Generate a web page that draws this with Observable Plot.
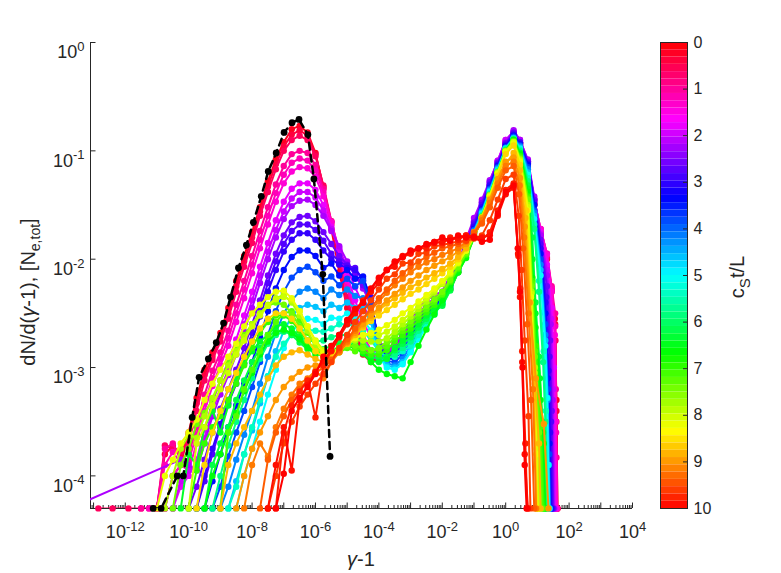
<!DOCTYPE html>
<html><head><meta charset="utf-8">
<script src="https://cdn.jsdelivr.net/npm/d3@7"></script>
<script src="https://cdn.jsdelivr.net/npm/@observablehq/plot@0.6"></script>
<style>
body{margin:0;background:#fff;}
#wrap{position:relative;width:781px;height:573px;background:#fff;}
#wrap svg{position:absolute;top:0;}
</style></head><body><div id="wrap"></div>
<script>
// ---------------- data (x as log10(γ-1) bins, y as log10 of dN/d(γ-1)) ----------------
const binStep = 0.25; // decades per energy bin

// initial distribution (black dashed): [log10(γ-1), log10(dN/d(γ-1))]
const initialCurve = [[-11.12,-4.3],[-10.87,-4.3],[-10.36,-4.0],[-10.17,-4.0],[-9.89,-3.46],[-9.67,-3.09],[-9.38,-2.92],[-9.13,-2.77],[-8.9,-2.59],[-8.68,-2.35],[-8.43,-2.08],[-8.18,-1.87],[-7.96,-1.66],[-7.71,-1.42],[-7.49,-1.19],[-7.24,-1.02],[-6.99,-0.83],[-6.74,-0.74],[-6.52,-0.71],[-6.24,-0.85],[-6.05,-1.26],[-5.77,-2.14],[-5.54,-3.82]];

const times = [0.2,0.4,0.6,1.0,1.2,1.4,1.8,2.0,2.2,2.6,2.8,3.0,3.4,3.8,4.2,4.6,5.0,5.4,5.8,6.2,6.4,6.6,7.0,7.2,7.4,7.8,8.0,8.2,8.6,8.8,9.0,9.2,9.4,9.6,9.8,9.9,10.0];
const startLogX = [-11,-11,-11,-11.5,-11.25,-11,-10.75,-10.5,-10.25,-10,-9.75,-9.75,-9.5,-9.25,-9,-8.75,-8.5,-8.75,-9.25,-9.75,-10.25,-9.5,-10,-9,-10.5,-10.75,-10,-11,-9.75,-9,-8.5,-8.25,-7.75,-7.5,-7.5,-7.5,-7.25];

const logY_t0_2 = [-4.3,-4.3,-4.0,-3.9,  -3.6,-3.28,-3.02,-2.86,  -2.68,-2.45,-2.2,-1.97,  -1.75,-1.52,-1.28,-1.08,  -0.92,-0.8,-0.77,-0.83,  -1.02,-1.35,-1.72,-2.12,  -2.45,-2.72,-2.88,-2.95,  -2.92,-2.88,-2.82,-2.74,  -2.68,-2.6,-2.52,-2.45,  -2.38,-2.28,-2.12,-1.95,  -1.76,-1.56,-1.36,-1.15,  -0.96,-0.88];
const logY_t0_4 = [-4.3,-3.8,-3.72,-3.8,  -3.62,-3.33,-3.07,-2.9,  -2.72,-2.5,-2.25,-2.02,  -1.8,-1.56,-1.33,-1.12,  -0.96,-0.85,-0.81,-0.86,  -1.03,-1.33,-1.68,-2.05,  -2.4,-2.67,-2.85,-2.94,  -2.91,-2.86,-2.8,-2.72,  -2.66,-2.58,-2.5,-2.43,  -2.37,-2.27,-2.11,-1.94,  -1.75,-1.55,-1.35,-1.14,  -0.95,-0.87];
const logY_t0_6 = [-4.3,-3.72,-3.75,-3.78,  -3.7,-3.4,-3.12,-2.93,  -2.76,-2.55,-2.3,-2.07,  -1.85,-1.6,-1.38,-1.17,  -1.0,-0.9,-0.86,-0.9,  -1.05,-1.32,-1.65,-2.0,  -2.35,-2.62,-2.82,-2.93,  -2.9,-2.84,-2.77,-2.7,  -2.64,-2.56,-2.48,-2.42,  -2.36,-2.26,-2.1,-1.93,  -1.74,-1.54,-1.34,-1.13,  -0.94,-0.86];
const logY_t1_0 = [-4.3,-4.3,  -4.3,-3.75,-3.7,-3.85,  -3.8,-3.55,-3.25,-3.03,  -2.86,-2.66,-2.42,-2.2,  -1.97,-1.74,-1.52,-1.31,  -1.14,-1.03,-1.0,-1.02,  -1.13,-1.35,-1.65,-1.95,  -2.27,-2.55,-2.78,-2.9,  -2.93,-2.86,-2.78,-2.7,  -2.63,-2.55,-2.47,-2.41,  -2.35,-2.24,-2.09,-1.92,  -1.73,-1.53,-1.33,-1.12,  -0.93,-0.85];
const logY_t1_2 = [-4.3,  -4.3,-3.9,-3.78,-3.88,  -3.86,-3.62,-3.33,-3.1,  -2.92,-2.73,-2.5,-2.28,  -2.05,-1.82,-1.6,-1.39,  -1.22,-1.11,-1.07,-1.09,  -1.18,-1.38,-1.66,-1.94,  -2.24,-2.51,-2.74,-2.88,  -2.91,-2.85,-2.77,-2.69,  -2.62,-2.54,-2.46,-2.4,  -2.34,-2.23,-2.08,-1.91,  -1.72,-1.52,-1.32,-1.11,  -0.92,-0.84];
const logY_t1_4 = [-4.3,-4.3,-4.0,-3.9,  -3.95,-3.7,-3.4,-3.17,  -2.98,-2.8,-2.58,-2.36,  -2.13,-1.9,-1.68,-1.47,  -1.3,-1.19,-1.15,-1.16,  -1.24,-1.42,-1.66,-1.92,  -2.2,-2.47,-2.7,-2.84,  -2.86,-2.86,-2.82,-2.74,  -2.66,-2.57,-2.48,-2.4,  -2.33,-2.22,-2.08,-1.9,  -1.7,-1.5,-1.31,-1.1,  -0.91,-0.84];
const logY_t1_8 = [-4.3,-4.3,-4.1,  -4.0,-3.85,-3.57,-3.32,  -3.12,-2.94,-2.74,-2.52,  -2.3,-2.07,-1.85,-1.64,  -1.47,-1.35,-1.3,-1.3,  -1.36,-1.5,-1.7,-1.92,  -2.15,-2.38,-2.58,-2.72,  -2.84,-2.86,-2.83,-2.76,  -2.62,-2.53,-2.45,-2.38,  -2.32,-2.2,-2.07,-1.88,  -1.67,-1.48,-1.29,-1.09,  -0.9,-0.83];
const logY_t2_0 = [-4.3,-4.05,  -3.95,-3.92,-3.65,-3.4,  -3.2,-3.02,-2.82,-2.6,  -2.38,-2.15,-1.93,-1.73,  -1.56,-1.44,-1.38,-1.38,  -1.43,-1.55,-1.72,-1.9,  -2.08,-2.26,-2.42,-2.57,  -2.8,-2.85,-2.83,-2.74,  -2.6,-2.5,-2.42,-2.36,  -2.31,-2.18,-2.06,-1.85,  -1.65,-1.47,-1.28,-1.09,  -0.9,-0.82];
const logY_t2_2 = [-3.85,  -3.9,-3.95,-3.7,-3.45,  -3.25,-3.07,-2.88,-2.67,  -2.45,-2.22,-2.0,-1.8,  -1.63,-1.51,-1.46,-1.45,  -1.5,-1.6,-1.74,-1.88,  -2.02,-2.15,-2.27,-2.42,  -2.76,-2.82,-2.8,-2.7,  -2.56,-2.45,-2.38,-2.33,  -2.3,-2.15,-2.04,-1.82,  -1.62,-1.45,-1.27,-1.1,  -0.92,-0.81];
const logY_t2_6 = [-4.3,-4.1,-3.85,-3.6,  -3.38,-3.2,-3.02,-2.82,  -2.6,-2.38,-2.15,-1.95,  -1.78,-1.66,-1.61,-1.6,  -1.65,-1.75,-1.86,-1.97,  -2.05,-2.14,-2.24,-2.4,  -2.78,-2.86,-2.85,-2.76,  -2.62,-2.52,-2.43,-2.37,  -2.32,-2.18,-2.05,-1.86,  -1.66,-1.48,-1.29,-1.11,  -0.93,-0.83];
const logY_t2_8 = [-4.3,-4.05,-3.8,  -3.55,-3.3,-3.1,-2.9,  -2.68,-2.45,-2.22,-2.02,  -1.86,-1.74,-1.68,-1.68,  -1.73,-1.83,-1.95,-2.02,  -2.06,-2.08,-2.2,-2.36,  -2.8,-2.9,-2.88,-2.78,  -2.66,-2.55,-2.46,-2.39,  -2.33,-2.19,-2.06,-1.88,  -1.68,-1.5,-1.31,-1.12,  -0.94,-0.84];
const logY_t3_0 = [-4.3,-4.0,-3.75,  -3.52,-3.33,-3.15,-2.96,  -2.75,-2.53,-2.3,-2.1,  -1.93,-1.82,-1.76,-1.76,  -1.82,-1.92,-2.0,-2.05,  -2.08,-2.1,-2.18,-2.35,  -2.82,-2.9,-2.9,-2.8,  -2.68,-2.57,-2.48,-2.41,  -2.34,-2.2,-2.06,-1.89,  -1.7,-1.52,-1.32,-1.13,  -0.95,-0.85];
const logY_t3_4 = [-4.3,-4.05,  -3.8,-3.55,-3.35,-3.15,  -2.95,-2.72,-2.48,-2.27,  -2.1,-1.98,-1.92,-1.92,  -1.97,-2.08,-2.04,-2.15,  -2.1,-2.18,-2.16,-2.38,  -2.8,-2.92,-2.92,-2.84,  -2.72,-2.61,-2.51,-2.43,  -2.36,-2.22,-2.07,-1.9,  -1.72,-1.54,-1.34,-1.14,  -0.96,-0.86];
const logY_t3_8 = [-4.3,  -4.1,-3.82,-3.6,-3.4,  -3.18,-2.95,-2.7,-2.48,  -2.3,-2.17,-2.1,-2.07,  -2.12,-2.2,-2.16,-2.24,  -2.18,-2.25,-2.2,-2.42,  -2.82,-2.94,-2.95,-2.88,  -2.76,-2.65,-2.55,-2.46,  -2.37,-2.23,-2.08,-1.91,  -1.73,-1.55,-1.35,-1.15,  -0.97,-0.87];
const logY_t4_2 = [-4.3,-4.1,-3.85,-3.62,  -3.4,-3.15,-2.9,-2.68,  -2.5,-2.38,-2.3,-2.27,  -2.3,-2.36,-2.28,-2.33,  -2.28,-2.34,-2.36,-2.5,  -2.85,-2.96,-2.98,-2.92,  -2.8,-2.68,-2.57,-2.47,  -2.38,-2.24,-2.08,-1.92,  -1.74,-1.56,-1.36,-1.16,  -0.97,-0.88];
const logY_t4_6 = [-4.3,-4.05,-3.8,  -3.58,-3.33,-3.08,-2.85,  -2.66,-2.53,-2.45,-2.42,  -2.44,-2.48,-2.42,-2.45,  -2.4,-2.45,-2.46,-2.58,  -2.88,-2.98,-3.0,-2.95,  -2.84,-2.72,-2.6,-2.49,  -2.39,-2.25,-2.09,-1.93,  -1.75,-1.57,-1.37,-1.17,  -0.98,-0.88];
const logY_t5_0 = [-4.3,-4.0,  -3.75,-3.5,-3.25,-3.02,  -2.82,-2.68,-2.58,-2.55,  -2.56,-2.6,-2.54,-2.55,  -2.5,-2.55,-2.56,-2.66,  -2.9,-3.0,-3.02,-2.97,  -2.86,-2.74,-2.62,-2.51,  -2.4,-2.26,-2.1,-1.94,  -1.76,-1.58,-1.38,-1.18,  -0.98,-0.89];
const logY_t5_4 = [-4.3,-4.1,-3.8,  -3.55,-3.3,-3.08,-2.9,  -2.78,-2.7,-2.66,-2.65,  -2.66,-2.67,-2.64,-2.6,  -2.6,-2.62,-2.66,-2.75,  -2.85,-2.9,-2.9,-2.85,  -2.8,-2.7,-2.6,-2.5,  -2.41,-2.27,-2.1,-1.94,  -1.77,-1.59,-1.39,-1.18,  -0.98,-0.89];
const logY_t5_8 = [-4.3,  -4.0,-3.72,-3.5,-3.3,  -3.1,-2.92,-2.78,-2.7,  -2.67,-2.68,-2.72,-2.75,  -2.76,-2.75,-2.72,-2.7,  -2.7,-2.72,-2.76,-2.84,  -2.9,-2.92,-2.88,-2.82,  -2.76,-2.66,-2.57,-2.49,  -2.42,-2.28,-2.11,-1.95,  -1.78,-1.6,-1.4,-1.19,  -0.99,-0.89];
const logY_t6_2 = [-4.3,-4.3,-3.9,  -3.7,-3.55,-3.3,-3.12,  -2.95,-2.82,-2.72,-2.66,  -2.66,-2.7,-2.77,-2.83,  -2.85,-2.83,-2.8,-2.77,  -2.76,-2.78,-2.83,-2.9,  -2.92,-2.9,-2.84,-2.78,  -2.72,-2.63,-2.55,-2.48,  -2.43,-2.29,-2.12,-1.96,  -1.79,-1.61,-1.41,-1.2,  -1.0,-0.9];
const logY_t6_4 = [-4.3,  -3.8,-3.9,-3.55,-3.4,  -3.6,-3.35,-3.1,-2.96,  -2.85,-2.76,-2.7,-2.62,  -2.6,-2.64,-2.72,-2.8,  -2.86,-2.9,-2.86,-2.8,  -2.78,-2.8,-2.86,-2.94,  -2.95,-2.92,-2.82,-2.75,  -2.68,-2.6,-2.52,-2.45,  -2.41,-2.27,-2.12,-1.98,  -1.8,-1.62,-1.42,-1.21,  -1.0,-0.9];
const logY_t6_6 = [-4.3,-4.0,  -3.8,-3.6,-3.42,-3.22,  -3.05,-2.88,-2.76,-2.68,  -2.65,-2.68,-2.74,-2.82,  -2.88,-2.88,-2.85,-2.82,  -2.8,-2.82,-2.87,-2.95,  -3.02,-3.06,-3.08,-3.1,  -2.95,-2.8,-2.65,-2.51,  -2.38,-2.24,-2.12,-1.99,  -1.8,-1.62,-1.42,-1.21,  -1.0,-0.9];
const logY_t7_0 = [-4.3,-3.95,-3.7,-3.55,  -3.45,-3.3,-3.15,-2.98,  -2.82,-2.68,-2.58,-2.52,  -2.52,-2.57,-2.66,-2.76,  -2.84,-2.88,-2.86,-2.82,  -2.8,-2.81,-2.85,-2.88,  -2.88,-2.84,-2.76,-2.7,  -2.64,-2.56,-2.49,-2.42,  -2.33,-2.21,-2.09,-1.96,  -1.8,-1.61,-1.41,-1.2,  -1.0,-0.91];
const logY_t7_2 = [-4.3,-3.6,-3.45,-3.2,  -3.02,-2.85,-2.7,-2.58,  -2.5,-2.48,-2.56,-2.68,  -2.8,-2.9,-2.92,-2.86,  -2.82,-2.85,-2.8,-2.84,  -2.84,-2.8,-2.72,-2.66,  -2.6,-2.53,-2.46,-2.39,  -2.32,-2.2,-2.08,-1.95,  -1.8,-1.61,-1.41,-1.2,  -1.0,-0.91];
const logY_t7_4 = [-4.3,-3.9,  -3.75,-3.52,-3.42,-3.3,  -3.12,-2.96,-2.82,-2.7,  -2.6,-2.5,-2.43,-2.4,  -2.42,-2.5,-2.62,-2.75,  -2.85,-2.9,-2.88,-2.84,  -2.8,-2.8,-2.82,-2.84,  -2.82,-2.76,-2.7,-2.63,  -2.57,-2.5,-2.43,-2.37,  -2.3,-2.19,-2.07,-1.94,  -1.79,-1.61,-1.41,-1.2,  -1.0,-0.92];
const logY_t7_8 = [-4.3,-4.0,-3.75,  -3.62,-3.65,-3.45,-3.28,  -3.12,-2.98,-2.85,-2.72,  -2.6,-2.5,-2.42,-2.36,  -2.33,-2.4,-2.52,-2.66,  -2.8,-2.88,-2.88,-2.83,  -2.78,-2.75,-2.75,-2.76,  -2.76,-2.73,-2.67,-2.6,  -2.53,-2.46,-2.39,-2.31,  -2.23,-2.14,-2.04,-1.92,  -1.78,-1.61,-1.41,-1.2,  -1.0,-0.92];
const logY_t8_0 = [-4.3,-3.7,-3.55,-3.35,  -3.2,-3.05,-2.88,-2.75,  -2.62,-2.52,-2.43,-2.37,  -2.35,-2.38,-2.48,-2.62,  -2.75,-2.84,-2.86,-2.82,  -2.76,-2.72,-2.7,-2.7,  -2.7,-2.67,-2.62,-2.56,  -2.5,-2.43,-2.36,-2.29,  -2.22,-2.13,-2.03,-1.92,  -1.79,-1.62,-1.42,-1.21,  -1.01,-0.92];
const logY_t8_2 = [-4.3,-4.0,-3.85,-3.7,  -3.6,-3.48,-3.3,-3.15,  -3.02,-2.9,-2.78,-2.62,  -2.5,-2.42,-2.35,-2.3,  -2.29,-2.36,-2.48,-2.62,  -2.76,-2.86,-2.88,-2.84,  -2.78,-2.73,-2.7,-2.68,  -2.65,-2.61,-2.56,-2.5,  -2.45,-2.39,-2.33,-2.27,  -2.2,-2.12,-2.03,-1.92,  -1.79,-1.62,-1.42,-1.21,  -1.01,-0.93];
const logY_t8_6 = [-4.3,-3.9,-3.6,  -3.4,-3.2,-3.05,-2.9,  -2.76,-2.64,-2.55,-2.5,  -2.5,-2.55,-2.64,-2.75,  -2.85,-2.9,-2.9,-2.85,  -2.78,-2.7,-2.63,-2.57,  -2.52,-2.47,-2.42,-2.37,  -2.32,-2.28,-2.23,-2.18,  -2.13,-2.07,-2.0,-1.9,  -1.78,-1.63,-1.44,-1.23,  -1.03,-0.95];
const logY_t8_8 = [-4.3,-3.9,-3.7,-3.55,  -3.4,-3.25,-3.1,-2.98,  -2.9,-2.86,-2.84,-2.88,  -2.92,-2.95,-2.93,-2.86,  -2.78,-2.7,-2.62,-2.54,  -2.47,-2.41,-2.36,-2.31,  -2.26,-2.22,-2.17,-2.13,  -2.09,-2.04,-1.98,-1.9,  -1.78,-1.65,-1.48,-1.3,  -1.12,-1.02];
const logY_t9_0 = [-4.3,-4.0,  -3.75,-3.6,-3.45,-3.3,  -3.18,-3.1,-3.04,-3.0,  -2.98,-2.96,-2.92,-2.85,  -2.77,-2.68,-2.6,-2.52,  -2.45,-2.38,-2.32,-2.26,  -2.2,-2.15,-2.1,-2.06,  -2.02,-1.98,-1.93,-1.86,  -1.75,-1.62,-1.45,-1.26,  -1.1,-1.06];
const logY_t9_2 = [-4.3,  -3.9,-3.7,-3.82,-3.55,  -3.38,-3.25,-3.15,-3.1,  -3.03,-3.1,-2.95,-2.86,  -2.76,-2.66,-2.56,-2.47,  -2.39,-2.31,-2.24,-2.18,  -2.12,-2.07,-2.03,-2.0,  -1.96,-1.93,-1.9,-1.84,  -1.75,-1.64,-1.48,-1.3,  -1.14,-1.1];
const logY_t9_4 = [-4.3,-3.85,-3.6,  -3.45,-3.3,-3.2,-3.12,  -3.05,-3.0,-2.93,-2.84,  -2.74,-2.64,-2.55,-2.45,  -2.36,-2.28,-2.2,-2.13,  -2.07,-2.02,-1.98,-1.94,  -1.9,-1.88,-1.86,-1.82,  -1.76,-1.67,-1.52,-1.34,  -1.18,-1.14];
const logY_t9_6 = [-4.3,-4.0,  -3.7,-3.5,-3.36,-3.25,  -3.15,-3.06,-2.95,-2.82,  -2.7,-2.58,-2.48,-2.38,  -2.28,-2.18,-2.14,-2.04,  -2.03,-1.95,-1.94,-1.88,  -1.87,-1.85,-1.84,-1.83,  -1.81,-1.78,-1.64,-1.45,  -1.26,-1.22];
const logY_t9_8 = [-4.3,-4.3,  -3.6,-3.35,-3.22,-3.12,  -3.46,-2.98,-2.85,-2.7,  -2.58,-2.47,-2.38,-2.28,  -2.18,-2.1,-2.03,-1.98,  -1.95,-1.9,-1.9,-1.84,  -1.85,-1.8,-1.82,-1.78,  -1.8,-1.82,-1.75,-1.55,  -1.36,-1.3];
const logY_t9_9 = [-4.3,-3.9,  -3.55,-3.95,-3.3,-3.16,  -3.04,-2.94,-2.84,-2.72,  -2.6,-2.5,-2.4,-2.3,  -2.22,-2.1,-2.07,-1.97,  -1.94,-1.9,-1.87,-1.85,  -1.84,-1.82,-1.8,-1.78,  -1.79,-1.8,-1.78,-1.6,  -1.4,-1.34];
const logY_t10_0 = [-4.3,  -3.98,-3.4,-3.28,-3.18,  -3.06,-2.9,-2.8,-2.7,  -2.56,-2.46,-2.4,-2.27,  -2.17,-2.1,-2.02,-1.98,  -1.92,-1.9,-1.86,-1.84,  -1.8,-1.83,-1.78,-1.8,  -1.8,-1.84,-1.82,-1.58,  -1.38,-1.32];

// high-energy cut-off points beyond the bin grid: [log10(γ-1), log10(dN/d(γ-1))]
const tail_t0_2 = [[0.45,-0.95],[0.7,-1.15],[0.9,-1.5],[1.1,-1.78],[1.3,-2.0],[1.45,-2.3],[1.55,-2.55],[1.6,-3.3],[1.63,-4.3]];
const tail_t0_4 = [[0.45,-0.94],[0.7,-1.13],[0.9,-1.49],[1.1,-1.76],[1.3,-1.99],[1.45,-2.29],[1.56,-2.6],[1.6,-3.4],[1.63,-4.3]];
const tail_t0_6 = [[0.45,-0.93],[0.7,-1.12],[0.9,-1.48],[1.1,-1.75],[1.3,-1.98],[1.45,-2.28],[1.57,-2.75],[1.6,-3.5],[1.63,-4.3]];
const tail_t1_0 = [[0.45,-0.93],[0.7,-1.1],[0.9,-1.46],[1.1,-1.72],[1.3,-1.95],[1.45,-2.25],[1.56,-2.5],[1.58,-3.2],[1.6,-3.83],[1.62,-4.3]];
const tail_t1_2 = [[0.45,-0.92],[0.7,-1.1],[0.9,-1.45],[1.1,-1.72],[1.3,-1.95],[1.45,-2.27],[1.56,-2.62],[1.59,-3.6],[1.62,-4.3]];
const tail_t1_4 = [[0.45,-0.92],[0.7,-1.1],[0.9,-1.45],[1.1,-1.72],[1.3,-1.96],[1.45,-2.3],[1.55,-2.7],[1.58,-3.5],[1.61,-4.3]];
const tail_t1_8 = [[0.45,-0.9],[0.7,-1.1],[0.9,-1.45],[1.1,-1.75],[1.3,-2.05],[1.45,-2.45],[1.52,-3.0],[1.56,-4.3]];
const tail_t2_0 = [[0.45,-0.9],[0.7,-1.09],[0.9,-1.44],[1.1,-1.77],[1.3,-2.1],[1.43,-2.55],[1.5,-3.2],[1.54,-4.3]];
const tail_t2_2 = [[0.45,-0.9],[0.7,-1.08],[0.9,-1.42],[1.1,-1.78],[1.3,-2.15],[1.42,-2.6],[1.48,-3.3],[1.52,-4.3]];
const tail_t2_6 = [[0.45,-0.92],[0.7,-1.1],[0.9,-1.45],[1.1,-1.82],[1.3,-2.25],[1.4,-2.75],[1.45,-3.4],[1.5,-4.3]];
const tail_t2_8 = [[0.45,-0.92],[0.7,-1.11],[0.9,-1.47],[1.1,-1.86],[1.28,-2.35],[1.38,-2.9],[1.43,-3.5],[1.47,-4.3]];
const tail_t3_0 = [[0.45,-0.93],[0.7,-1.12],[0.9,-1.5],[1.1,-1.9],[1.25,-2.4],[1.35,-3.03],[1.4,-3.6],[1.45,-4.3]];
const tail_t3_4 = [[0.45,-0.94],[0.7,-1.13],[0.9,-1.5],[1.1,-1.95],[1.25,-2.5],[1.33,-3.1],[1.38,-3.7],[1.42,-4.3]];
const tail_t3_8 = [[0.45,-0.95],[0.7,-1.15],[0.9,-1.55],[1.1,-2.0],[1.25,-2.6],[1.33,-3.2],[1.37,-3.8],[1.4,-4.3]];
const tail_t4_2 = [[0.45,-0.96],[0.7,-1.17],[0.9,-1.57],[1.1,-2.05],[1.25,-2.7],[1.32,-3.3],[1.36,-3.9],[1.39,-4.3]];
const tail_t4_6 = [[0.45,-0.97],[0.7,-1.2],[0.9,-1.6],[1.1,-2.1],[1.25,-2.75],[1.32,-3.28],[1.35,-3.9],[1.38,-4.3]];
const tail_t5_0 = [[0.45,-0.98],[0.7,-1.22],[0.9,-1.63],[1.1,-2.15],[1.25,-2.8],[1.3,-3.28],[1.34,-3.9],[1.37,-4.3]];
const tail_t5_4 = [[0.45,-0.99],[0.7,-1.25],[0.9,-1.68],[1.05,-2.2],[1.2,-2.85],[1.27,-3.4],[1.31,-4.3]];
const tail_t5_8 = [[0.45,-1.0],[0.7,-1.28],[0.9,-1.72],[1.05,-2.3],[1.18,-2.95],[1.25,-3.5],[1.29,-4.3]];
const tail_t6_2 = [[0.45,-1.02],[0.7,-1.32],[0.84,-1.8],[0.94,-2.4],[1.05,-2.9],[1.15,-3.5],[1.22,-4.3]];
const tail_t6_4 = [[0.45,-1.02],[0.7,-1.35],[0.84,-2.0],[0.94,-2.5],[1.08,-3.1],[1.18,-3.6],[1.23,-4.3]];
const tail_t6_6 = [[0.45,-1.03],[0.7,-1.38],[0.84,-2.17],[0.94,-2.63],[1.1,-3.3],[1.2,-3.7],[1.25,-4.3]];
const tail_t7_0 = [[0.45,-1.05],[0.7,-1.42],[0.84,-2.2],[0.95,-2.8],[1.1,-3.5],[1.2,-4.3]];
const tail_t7_2 = [[0.45,-1.06],[0.7,-1.44],[0.83,-2.22],[0.93,-2.85],[1.08,-3.55],[1.16,-4.3]];
const tail_t7_4 = [[0.45,-1.07],[0.7,-1.45],[0.82,-2.25],[0.92,-2.9],[1.05,-3.6],[1.12,-4.3]];
const tail_t7_8 = [[0.45,-1.08],[0.7,-1.5],[0.82,-2.3],[0.92,-3.0],[1.0,-3.7],[1.05,-4.3]];
const tail_t8_0 = [[0.45,-1.09],[0.7,-1.52],[0.81,-2.32],[0.91,-3.05],[0.98,-3.75],[1.02,-4.3]];
const tail_t8_2 = [[0.45,-1.1],[0.7,-1.55],[0.8,-2.35],[0.9,-3.1],[0.97,-3.8],[1.0,-4.3]];
const tail_t8_6 = [[0.45,-1.13],[0.65,-1.55],[0.78,-2.4],[0.9,-3.2],[0.98,-4.3]];
const tail_t8_8 = [[0.45,-1.18],[0.62,-1.62],[0.76,-2.4],[0.92,-3.15],[1.05,-3.7],[1.1,-4.3]];
const tail_t9_0 = [[0.45,-1.25],[0.6,-1.7],[0.75,-2.4],[0.95,-3.1],[1.2,-3.52],[1.35,-4.3]];
const tail_t9_2 = [[0.44,-1.32],[0.58,-1.8],[0.72,-2.5],[0.86,-3.2],[0.96,-4.3]];
const tail_t9_4 = [[0.42,-1.4],[0.55,-1.9],[0.68,-2.6],[0.8,-3.3],[0.9,-4.3]];
const tail_t9_6 = [[0.41,-1.6],[0.5,-2.1],[0.6,-2.75],[0.72,-3.45],[0.78,-4.3]];
const tail_t9_8 = [[0.4,-1.97],[0.46,-2.27],[0.52,-2.85],[0.62,-3.7],[0.68,-4.3]];
const tail_t9_9 = [[0.39,-1.95],[0.45,-2.35],[0.52,-2.95],[0.6,-3.8],[0.7,-4.3]];
const tail_t10_0 = [[0.38,-1.9],[0.45,-2.3],[0.53,-3.0],[0.6,-3.9],[0.66,-4.3]];

// low-energy points lying before the bin grid: [log10(γ-1), log10(dN/d(γ-1))]
const leads_t0_6 = [[-12.85,-4.3],[-12.4,-4.3],[-11.9,-4.3],[-11.5,-4.3]];
const leads_t2_2 = [[-14.0,-4.33]];

const logYs = [logY_t0_2,logY_t0_4,logY_t0_6,logY_t1_0,logY_t1_2,logY_t1_4,logY_t1_8,logY_t2_0,logY_t2_2,logY_t2_6,logY_t2_8,logY_t3_0,logY_t3_4,logY_t3_8,logY_t4_2,logY_t4_6,logY_t5_0,logY_t5_4,logY_t5_8,logY_t6_2,logY_t6_4,logY_t6_6,logY_t7_0,logY_t7_2,logY_t7_4,logY_t7_8,logY_t8_0,logY_t8_2,logY_t8_6,logY_t8_8,logY_t9_0,logY_t9_2,logY_t9_4,logY_t9_6,logY_t9_8,logY_t9_9,logY_t10_0];
const tails = [tail_t0_2,tail_t0_4,tail_t0_6,tail_t1_0,tail_t1_2,tail_t1_4,tail_t1_8,tail_t2_0,tail_t2_2,tail_t2_6,tail_t2_8,tail_t3_0,tail_t3_4,tail_t3_8,tail_t4_2,tail_t4_6,tail_t5_0,tail_t5_4,tail_t5_8,tail_t6_2,tail_t6_4,tail_t6_6,tail_t7_0,tail_t7_2,tail_t7_4,tail_t7_8,tail_t8_0,tail_t8_2,tail_t8_6,tail_t8_8,tail_t9_0,tail_t9_2,tail_t9_4,tail_t9_6,tail_t9_8,tail_t9_9,tail_t10_0];
const leads = {0.6: leads_t0_6, 2.2: leads_t2_2};

// axes
const xDomain = [8e-14, 1e4];
const yDomain = [5e-5, 1];
const xLabelExps = [-12,-10,-8,-6,-4,-2,0,2,4];
const yLabelExps = [-4,-3,-2,-1,0];
const cbTicks = [0,1,2,3,4,5,6,7,8,9,10];
const tRange = [0,10];

// ---------------- rendering ----------------
const FONT = "'Liberation Sans', Arial, Helvetica, sans-serif";
const AX = "#262626";
const W = 781, H = 573;
const mL = 90, mR = 149, mT = 42, mB = 65;
const plotW = W - mL - mR, plotH = H - mT - mB;

const colorOf = t => d3.hsl((360 * (1 - t / tRange[1])) % 360, 1, 0.5).formatHex();

const curves = times.map((t, k) => {
  const pts = [];
  (leads[t] || []).forEach(([X, L]) => pts.push({x: 10 ** X, y: 10 ** L}));
  logYs[k].forEach((L, i) => pts.push({x: 10 ** (startLogX[k] + i * binStep), y: 10 ** L}));
  tails[k].forEach(([X, L]) => pts.push({x: 10 ** X, y: 10 ** L}));
  return {t, pts, color: colorOf(t)};
});
const blackPts = initialCurve.map(([X, L]) => ({x: 10 ** X, y: 10 ** L}));

const majorX = d3.range(Math.ceil(Math.log10(xDomain[0])), Math.floor(Math.log10(xDomain[1])) + 1).map(e => 10 ** e);
const minorX = [];
for (let e = Math.floor(Math.log10(xDomain[0])); e < Math.log10(xDomain[1]); e++)
  for (let m = 2; m <= 9; m++) { const v = m * 10 ** e; if (v >= xDomain[0] && v <= xDomain[1]) minorX.push(v); }
const inDom = p => p.x >= xDomain[0] && p.x <= xDomain[1];

const marks = [
  Plot.ruleX([xDomain[0]], {stroke: AX, strokeWidth: 1}),
  Plot.ruleY([yDomain[0]], {stroke: AX, strokeWidth: 1}),
  Plot.tickX(minorX, {x: d => d, insetTop: plotH - 3, stroke: AX, strokeWidth: 1}),
  Plot.tickX(majorX, {x: d => d, insetTop: plotH - 5.5, stroke: AX, strokeWidth: 1}),
  Plot.tickY(yLabelExps.map(e => 10 ** e), {y: d => d, insetRight: plotW - 5.5, stroke: AX, strokeWidth: 1}),
  Plot.axisX({ticks: xLabelExps.map(e => 10 ** e), tickSize: 0, tickPadding: 17, label: null, tickFormat: d => String(Math.round(Math.log10(d))), fontSize: 18, fill: AX}),
  Plot.axisY({ticks: yLabelExps.map(e => 10 ** e), tickSize: 0, tickPadding: 6, label: null, tickFormat: d => String(Math.round(Math.log10(d))), fontSize: 18, fill: AX}),
];
for (const c of curves) {
  marks.push(Plot.line(c.pts, {x: "x", y: "y", stroke: c.color, strokeWidth: 2, clip: true}));
  marks.push(Plot.dot(c.pts.filter(inDom), {x: "x", y: "y", r: 3.2, fill: c.color, stroke: "none"}));
}
marks.push(Plot.line(blackPts, {x: "x", y: "y", stroke: "#000", strokeWidth: 2.5, strokeDasharray: "7,5", clip: true}));
marks.push(Plot.dot(blackPts, {x: "x", y: "y", r: 3.4, fill: "#000"}));

const main = Plot.plot({
  width: W, height: H, marginLeft: mL, marginRight: mR, marginTop: mT, marginBottom: mB,
  x: {type: "log", domain: xDomain, axis: null, label: null},
  y: {type: "log", domain: yDomain, axis: null, label: null},
  style: {fontFamily: FONT, background: "#fff", color: AX, overflow: "visible"},
  marks
});
main.style.left = "0px";

const sel = d3.select(main);
sel.selectAll('g[aria-label="x-axis tick label"] text').each(function () {
  const e = this.textContent; const t = d3.select(this); t.text(null);
  t.append("tspan").text("10");
  t.append("tspan").attr("dy", "-0.55em").attr("font-size", "13px").text(e);
});
sel.selectAll('g[aria-label="y-axis tick label"] text').each(function () {
  const e = this.textContent; const t = d3.select(this); t.text(null);
  t.attr("dy", "0.55em");
  t.append("tspan").text("10");
  t.append("tspan").attr("dy", "-0.55em").attr("font-size", "13px").text(e);
});
// axis titles
const xl = sel.append("text").attr("x", mL + plotW / 2).attr("y", 566).attr("text-anchor", "middle")
  .attr("font-size", 20).attr("fill", AX).attr("font-family", FONT);
xl.append("tspan").attr("font-style", "italic").text("γ");
xl.append("tspan").text("-1");
const yl = sel.append("text").attr("transform", "translate(35,292) rotate(-90)").attr("text-anchor", "middle")
  .attr("font-size", 20).attr("fill", AX).attr("font-family", FONT);
yl.append("tspan").text("dN/d(");
yl.append("tspan").attr("font-style", "italic").text("γ");
yl.append("tspan").text("-1), [N");
yl.append("tspan").attr("dy", 5).attr("font-size", 14).text("e,tot");
yl.append("tspan").attr("dy", -5).text("]");

// colorbar
const nLevels = 64;
const bands = d3.range(nLevels).map(j => {
  const t0 = tRange[0] + (tRange[1] - tRange[0]) * j / nLevels, t1 = tRange[0] + (tRange[1] - tRange[0]) * (j + 1) / nLevels;
  return {t0, t1, color: colorOf((t0 + t1) / 2)};
});
const cbLeft = 620, cbW = 161;
const cb = Plot.plot({
  width: cbW, height: H, marginLeft: 660 - cbLeft, marginRight: cbW - (687 - cbLeft), marginTop: mT, marginBottom: mB,
  x: {domain: [0, 1], axis: null, label: null},
  y: {domain: tRange, reverse: true, axis: null, label: null},
  style: {fontFamily: FONT, background: "transparent", color: AX, overflow: "visible"},
  marks: [
    Plot.rect(bands, {y1: "t0", y2: "t1", fill: "color"}),
    Plot.tickY(cbTicks, {y: d => d, insetLeft: 23, stroke: AX}),
    Plot.frame({stroke: AX}),
    Plot.axisY({anchor: "right", ticks: cbTicks, tickSize: 0, tickPadding: 6, label: null, tickFormat: d => String(d), fontSize: 16, fill: AX})
  ]
});
cb.style.left = cbLeft + "px";
const cl = d3.select(cb).append("text").attr("transform", "translate(124,277) rotate(-90)").attr("text-anchor", "middle")
  .attr("font-size", 20).attr("fill", AX).attr("font-family", FONT);
cl.append("tspan").text("c");
cl.append("tspan").attr("dy", 6).attr("font-size", 15).text("S");
cl.append("tspan").attr("dy", -6).text("t/L");

const wrap = document.getElementById("wrap");
wrap.appendChild(main);
wrap.appendChild(cb);
</script></body></html>
